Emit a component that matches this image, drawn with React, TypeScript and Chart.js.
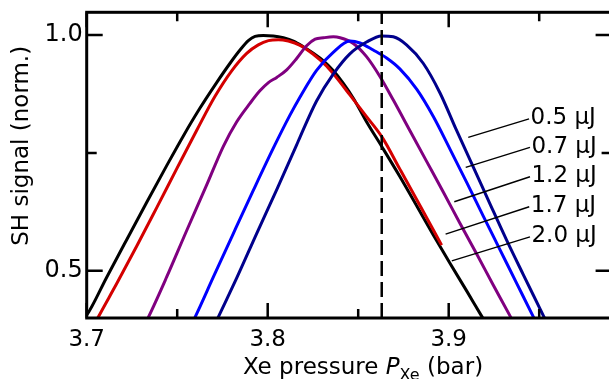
import React, { useEffect, useRef } from "react";
import { Chart, registerables } from "chart.js";

Chart.register(...registerables);

// ---- axes ----
const xTickValues = [3.7, 3.8, 3.9];
const xMinorTickValues = [3.75, 3.85, 3.95];
const yTickValues = [0.5, 1.0];
const yMinorTickValues = [0.75];
const xRange = [3.7, 3.99];
const yRange = [0.4, 1.048];
const markerPressure = 3.863;

// ---- series: 0.5 uJ (navy) ----
const s05X = [3.771, 3.7727, 3.7829, 3.7939, 3.805, 3.816, 3.8178, 3.827, 3.8362, 3.8454, 3.8546, 3.8629, 3.8694, 3.8767, 3.8859, 3.8952, 3.9043, 3.9136, 3.9228, 3.932, 3.9412, 3.9504, 3.9532, 3.956];
const s05Y = [0.388, 0.402, 0.485, 0.579, 0.672, 0.767, 0.783, 0.86, 0.917, 0.96, 0.985, 0.998, 0.996, 0.979, 0.94, 0.877, 0.798, 0.72, 0.642, 0.565, 0.492, 0.42, 0.398, 0.377];

// ---- series: 0.7 uJ (blue) ----
const s07X = [3.758, 3.7599, 3.77, 3.781, 3.7921, 3.8031, 3.8123, 3.8178, 3.827, 3.8362, 3.8454, 3.851, 3.8583, 3.8657, 3.873, 3.8823, 3.8915, 3.9007, 3.91, 3.9191, 3.9283, 3.9375, 3.9467, 3.949];
const s07Y = [0.388, 0.402, 0.487, 0.579, 0.671, 0.76, 0.83, 0.868, 0.925, 0.963, 0.987, 0.983, 0.968, 0.951, 0.928, 0.885, 0.827, 0.758, 0.687, 0.616, 0.545, 0.474, 0.403, 0.385];

// ---- series: 1.2 uJ (purple) ----
const s12X = [3.733, 3.7341, 3.7442, 3.7552, 3.7663, 3.7755, 3.7829, 3.7902, 3.7958, 3.8004, 3.805, 3.8105, 3.816, 3.8215, 3.8262, 3.8308, 3.8363, 3.84, 3.8473, 3.8546, 3.862, 3.8694, 3.8786, 3.8878, 3.897, 3.9062, 3.9154, 3.9246, 3.9338, 3.936];
const s12Y = [0.394, 0.402, 0.487, 0.585, 0.682, 0.764, 0.816, 0.855, 0.882, 0.899, 0.91, 0.926, 0.95, 0.977, 0.991, 0.994, 0.996, 0.994, 0.982, 0.954, 0.912, 0.862, 0.797, 0.732, 0.667, 0.601, 0.536, 0.47, 0.405, 0.389];

// ---- series: 1.7 uJ (red) ----
const s17X = [3.7048, 3.7064, 3.7166, 3.7276, 3.7387, 3.7497, 3.7608, 3.7709, 3.7801, 3.7884, 3.7948, 3.8004, 3.8059, 3.8114, 3.8179, 3.8252, 3.8326, 3.8362, 3.8454, 3.8546, 3.8631, 3.8731, 3.8842, 3.8961];
const s17Y = [0.39, 0.402, 0.473, 0.552, 0.634, 0.716, 0.798, 0.87, 0.924, 0.961, 0.979, 0.988, 0.99, 0.987, 0.978, 0.959, 0.934, 0.918, 0.873, 0.827, 0.784, 0.715, 0.638, 0.5545];

// ---- series: 2.0 uJ (black) ----
const s20X = [3.6982, 3.7, 3.711, 3.7221, 3.7331, 3.7442, 3.7534, 3.7626, 3.7718, 3.7792, 3.7847, 3.7893, 3.793, 3.7976, 3.8031, 3.8087, 3.8142, 3.8197, 3.8252, 3.8308, 3.8363, 3.8417, 3.8473, 3.8546, 3.8631, 3.873, 3.8823, 3.8915, 3.9007, 3.91, 3.9182, 3.922];
const s20Y = [0.399, 0.406, 0.486, 0.566, 0.645, 0.723, 0.786, 0.845, 0.899, 0.94, 0.968, 0.988, 0.997, 0.999, 0.998, 0.994, 0.987, 0.975, 0.961, 0.945, 0.924, 0.898, 0.866, 0.816, 0.763, 0.7, 0.638, 0.576, 0.516, 0.457, 0.404, 0.38];

// ---- annotations ----
const labelTexts = ["0.5 μJ", "0.7 μJ", "1.2 μJ", "1.7 μJ", "2.0 μJ"];
const leaderFromX = [3.9108, 3.9094, 3.9031, 3.8983, 3.9017];
const leaderFromY = [0.783, 0.7193, 0.6464, 0.5779, 0.5212];
const leaderToX = [3.9444, 3.9449, 3.9449, 3.9445, 3.9449];
const leaderToY = [0.822, 0.7618, 0.6994, 0.6358, 0.5721];

const xTitleParts = ["Xe pressure ", "P", "Xe", " (bar)"];
const yTitle = "SH signal (norm.)";

const FONT = '"DejaVu Sans", sans-serif';

const toPoints = (xs: number[], ys: number[]) => xs.map((x, i) => ({ x, y: ys[i] }));

const decorPlugin = {
  id: "decor",
  afterDraw(chart: any) {
    const { ctx, chartArea: a, scales } = chart;
    const xs = scales.x;
    const ys = scales.y;
    ctx.save();

    // dashed marker line
    const mx = xs.getPixelForValue(markerPressure);
    ctx.beginPath();
    ctx.setLineDash([15, 6]);
    ctx.lineWidth = 2.5;
    ctx.strokeStyle = "#000";
    ctx.moveTo(mx, a.bottom);
    ctx.lineTo(mx, a.top);
    ctx.stroke();
    ctx.setLineDash([]);

    // leader lines + labels
    ctx.lineWidth = 1.4;
    ctx.fillStyle = "#000";
    ctx.font = `23px ${FONT}`;
    ctx.textAlign = "left";
    ctx.textBaseline = "middle";
    for (let i = 0; i < labelTexts.length; i++) {
      const x0 = xs.getPixelForValue(leaderFromX[i]);
      const y0 = ys.getPixelForValue(leaderFromY[i]);
      const x1 = xs.getPixelForValue(leaderToX[i]);
      const y1 = ys.getPixelForValue(leaderToY[i]);
      ctx.beginPath();
      ctx.moveTo(x0, y0);
      ctx.lineTo(x1, y1);
      ctx.stroke();
      ctx.fillText(labelTexts[i], x1 + 1.5, y1 - 0.5);
    }

    // frame
    ctx.lineWidth = 3;
    ctx.strokeRect(a.left, a.top, a.right - a.left, a.bottom - a.top);

    // ticks (inward, all four sides)
    ctx.lineWidth = 2.5;
    const major = 15;
    const minor = 9;
    const drawX = (v: number, len: number) => {
      const p = xs.getPixelForValue(v);
      ctx.beginPath();
      ctx.moveTo(p, a.bottom);
      ctx.lineTo(p, a.bottom - len);
      ctx.moveTo(p, a.top);
      ctx.lineTo(p, a.top + len);
      ctx.stroke();
    };
    const drawY = (v: number, len: number) => {
      const p = ys.getPixelForValue(v);
      ctx.beginPath();
      ctx.moveTo(a.left, p);
      ctx.lineTo(a.left + len, p);
      ctx.moveTo(a.right, p);
      ctx.lineTo(a.right - len, p);
      ctx.stroke();
    };
    xTickValues.forEach((v) => drawX(v, major));
    xMinorTickValues.forEach((v) => drawX(v, minor));
    yTickValues.forEach((v) => drawY(v, major + 1));
    yMinorTickValues.forEach((v) => drawY(v, minor + 1));

    // x title with italic P and subscript
    const fonts = [`23px ${FONT}`, `italic 23px ${FONT}`, `16px ${FONT}`, `23px ${FONT}`];
    const dys = [0, 0, 6, 0];
    let total = 0;
    const widths: number[] = [];
    xTitleParts.forEach((t, i) => {
      ctx.font = fonts[i];
      const w = ctx.measureText(t).width;
      widths.push(w);
      total += w;
    });
    let cx = 363 - total / 2;
    const baseY = 374;
    ctx.textAlign = "left";
    ctx.textBaseline = "alphabetic";
    xTitleParts.forEach((t, i) => {
      ctx.font = fonts[i];
      ctx.fillText(t, cx, baseY + dys[i]);
      cx += widths[i];
    });

    // y title
    ctx.translate(22.5, 145.8);
    ctx.rotate(-Math.PI / 2);
    ctx.font = `23px ${FONT}`;
    ctx.textAlign = "center";
    ctx.textBaseline = "middle";
    ctx.fillText(yTitle, 0, 0);

    ctx.restore();
  },
};

export default function App() {
  const ref = useRef<HTMLCanvasElement | null>(null);

  useEffect(() => {
    if (!ref.current) return;
    const mk = (label: string, xs: number[], ys: number[], color: string) => ({
      label,
      data: toPoints(xs, ys),
      borderColor: color,
      backgroundColor: color,
      borderWidth: 3,
      pointRadius: 0,
      fill: false,
      cubicInterpolationMode: "monotone" as const,
      clip: 0,
    });
    const chart = new Chart(ref.current, {
      type: "line",
      data: {
        datasets: [
          mk("0.5 μJ", s05X, s05Y, "#00008c"),
          mk("0.7 μJ", s07X, s07Y, "#0000ff"),
          mk("1.2 μJ", s12X, s12Y, "#800080"),
          mk("1.7 μJ", s17X, s17Y, "#d40000"),
          mk("2.0 μJ", s20X, s20Y, "#000000"),
        ],
      },
      options: {
        animation: false,
        responsive: false,
        devicePixelRatio: 1,
        layout: { padding: { left: 0, top: 12.3, right: 28.4, bottom: 0 } },
        plugins: { legend: { display: false }, tooltip: { enabled: false } },
        scales: {
          x: {
            type: "linear",
            min: xRange[0],
            max: xRange[1],
            grid: { display: false, drawTicks: false },
            border: { display: false },
            ticks: {
              autoSkip: false,
              maxRotation: 0,
              padding: 8,
              color: "#000",
              font: { family: FONT, size: 23 },
              callback: (v: any) => Number(v).toFixed(1),
            },
            afterBuildTicks: (s: any) => {
              s.ticks = xTickValues.map((value) => ({ value }));
            },
            afterFit: (s: any) => {
              s.height = 61;
              s.paddingLeft = 0;
              s.paddingRight = 0;
            },
          },
          y: {
            type: "linear",
            min: yRange[0],
            max: yRange[1],
            grid: { display: false, drawTicks: false },
            border: { display: false },
            ticks: {
              autoSkip: false,
              padding: 4,
              color: "#000",
              font: { family: FONT, size: 24 },
              callback: (v: any) => Number(v).toFixed(1),
            },
            afterBuildTicks: (s: any) => {
              s.ticks = yTickValues.map((value) => ({ value }));
            },
            afterFit: (s: any) => {
              s.width = 86.7;
              s.paddingTop = 0;
              s.paddingBottom = 0;
            },
          },
        },
      },
      plugins: [decorPlugin],
    });
    return () => chart.destroy();
  }, []);

  return (
    <div style={{ position: "fixed", left: 0, top: 0, width: 640, height: 379, background: "#fff" }}>
      <canvas ref={ref} width={640} height={379} style={{ width: 640, height: 379, display: "block" }} />
    </div>
  );
}
